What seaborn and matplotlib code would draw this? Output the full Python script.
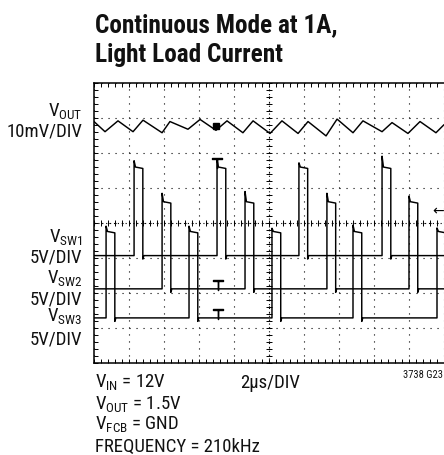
import os
import numpy as np
import pandas as pd
import seaborn as sns
import matplotlib
matplotlib.use("Agg")
import matplotlib.pyplot as plt
from matplotlib import font_manager as fm
from matplotlib.ticker import MultipleLocator

# ---------------- data (time in us, level in scope divisions, 0 = bottom) -------------
vout_t = [0.00, 0.63, 1.37, 2.23, 2.80, 3.89, 4.34, 5.37, 6.06, 6.97, 7.60, 8.51, 9.09,
          10.06, 10.74, 11.66, 12.23, 13.26, 13.89, 14.80, 15.37, 16.46, 17.03, 17.94,
          18.63, 19.54, 20.00]
vout_v = [6.89, 6.60, 6.91, 6.60, 6.93, 6.57, 6.89, 6.67, 6.95, 6.64, 6.91, 6.57, 6.91,
          6.55, 6.91, 6.55, 6.89, 6.48, 6.96, 6.57, 6.91, 6.60, 6.86, 6.55, 6.89, 6.57,
          6.80]

pulse_width = 0.50
sw1_edges = [2.29, 7.03, 11.71, 16.46]
sw1_spikes = [5.77, 5.79, 5.71, 5.90]
sw1_top, sw1_base = 5.59, 3.06

sw2_edges = [3.89, 8.63, 13.31, 18.00]
sw2_spikes = [4.84, 4.89, 4.84, 4.76]
sw2_top, sw2_base = 4.60, 2.11

sw3_edges = [0.69, 5.43, 10.17, 14.80, 19.60]
sw3_spikes = [3.90, 3.90, 3.84, 3.93, 3.85]
sw3_top, sw3_base = 3.75, 1.28

cursor_t = [7.03, 7.06, 7.06]
cursor_v = [5.71, 2.22, 1.39]
vout_cursor_t = [6.97]
vout_cursor_v = [6.75]
level_arrow = (19.97, 4.33)

# ---------------- fonts ----------------
def pick_font(bold):
    keys = ["liberationsansnarrow", "robotocondensed", "notosans-condensed",
            "dejavusanscondensed", "opensanscondensed"]
    files = sorted({f.fname for f in fm.fontManager.ttflist})
    for key in keys:
        for fn in files:
            b = os.path.basename(fn).lower().replace("_", "").replace(" ", "")
            if key not in b:
                continue
            if "italic" in b or "oblique" in b:
                continue
            isb = "bold" in b
            if bold:
                if isb and not any(s in b for s in ["semi", "extra", "ultra", "demi"]):
                    return fn, key
            else:
                if not isb and not any(s in b for s in ["light", "thin", "medium", "black", "semi", "extra"]):
                    return fn, key
    return None, None

reg_file, reg_key = pick_font(False)
bold_file, bold_key = pick_font(True)
scale_map = {"liberationsansnarrow": 1.0, "robotocondensed": 1.0,
             "notosans-condensed": 0.93, "dejavusanscondensed": 0.88,
             "opensanscondensed": 0.95}

def fp(size, bold=False):
    f, k = (bold_file, bold_key) if bold else (reg_file, reg_key)
    if f is None:
        return fm.FontProperties(family="Liberation Sans", weight="bold" if bold else "normal",
                                 size=size * 0.85)
    return fm.FontProperties(fname=f, size=size * scale_map.get(k, 1.0))

# ---------------- build traces ----------------
def pulse_trace(edges, spikes, top, base):
    t = [0.0]
    v = [base]
    for e, s in zip(edges, spikes):
        t += [e, e, e + 0.08, e + pulse_width, e + pulse_width, e + pulse_width + 0.06]
        v += [base, s, top, top - 0.04, base - 0.10, base]
    t.append(max(20.5, t[-1] + 0.1))
    v.append(base)
    return t, v

frames = [pd.DataFrame({"t": vout_t, "v": vout_v, "trace": "VOUT"})]
for name, (e, s, tp, b) in {"SW1": (sw1_edges, sw1_spikes, sw1_top, sw1_base),
                            "SW2": (sw2_edges, sw2_spikes, sw2_top, sw2_base),
                            "SW3": (sw3_edges, sw3_spikes, sw3_top, sw3_base)}.items():
    t, v = pulse_trace(e, s, tp, b)
    frames.append(pd.DataFrame({"t": t, "v": v, "trace": name}))
df = pd.concat(frames, ignore_index=True)

# ---------------- figure ----------------
sns.set_style("white")
W, H = 444, 455
fig = plt.figure(figsize=(W / 100, H / 100), dpi=100)
ax = fig.add_axes([94 / W, 92.3 / H, 350 / W, 280 / H])

sns.lineplot(data=df, x="t", y="v", units="trace", estimator=None, sort=False,
             color="black", linewidth=1.05, ax=ax, legend=False, zorder=3)

ax.set_xlim(0, 20)
ax.set_ylim(0, 8)
ax.set_xlabel("")
ax.set_ylabel("")

for side in ["left", "top", "bottom"]:
    ax.spines[side].set_color("black")
    ax.spines[side].set_linewidth(1.1)
ax.spines["right"].set_visible(False)

ax.xaxis.set_major_locator(MultipleLocator(2))
ax.xaxis.set_minor_locator(MultipleLocator(0.4))
ax.yaxis.set_major_locator(MultipleLocator(1))
ax.yaxis.set_minor_locator(MultipleLocator(0.2))
ax.tick_params(which="both", direction="in", top=True, bottom=True, left=True, right=False,
               labelbottom=False, labelleft=False, length=3, width=0.7, color="black")
ax.grid(which="major", color="black", linestyle=(0, (1, 5.3)), linewidth=0.8)
ax.set_axisbelow(True)

# centre crosshair with fine ticks
ax.axhline(4, color="black", linestyle=(0, (1, 2.5)), linewidth=0.8, zorder=1)
ax.axvline(10, color="black", linestyle=(0, (1, 2.5)), linewidth=0.8, zorder=1)
hx = np.arange(0, 20.001, 0.4)
vy = np.arange(0, 8.001, 0.2)
ax.plot(hx, np.full(hx.shape, 4.0), ls="none", marker="|", ms=4, mew=0.7, color="black", zorder=1)
ax.plot(np.full(vy.shape, 10.0), vy, ls="none", marker="_", ms=4, mew=0.7, color="black", zorder=1)

# scope cursors
ax.plot(cursor_t, cursor_v, ls="none", marker=r"$\top$", ms=7, color="black", zorder=4)
ax.plot(vout_cursor_t, vout_cursor_v, ls="none", marker="s", ms=4, color="black", zorder=4)
ax.text(level_arrow[0], level_arrow[1], "←", ha="right", va="center", fontsize=10,
        family="DejaVu Sans", color="black")

# ---------------- texts ----------------
def ftxt(x, y, s, prop, ha="left"):
    fig.text(x / W, 1 - y / H, s, fontproperties=prop, ha=ha, va="baseline", color="#111111")

tfp = fp(18.2, bold=True)
ftxt(95, 32, "Continuous Mode at 1A,", tfp)
ftxt(95, 62, "Light Load Current", tfp)

lfp = fp(13.5)
rx = 82.5
ftxt(rx, 117, r"V$_{\mathdefault{OUT}}$", lfp, ha="right")
ftxt(rx, 137, "10mV/DIV", lfp, ha="right")
ftxt(rx, 243, r"V$_{\mathdefault{SW1}}$", lfp, ha="right")
ftxt(rx, 263, "5V/DIV", lfp, ha="right")
ftxt(rx, 284, r"V$_{\mathdefault{SW2}}$", lfp, ha="right")
ftxt(rx, 305, "5V/DIV", lfp, ha="right")
ftxt(rx, 322, r"V$_{\mathdefault{SW3}}$", lfp, ha="right")
ftxt(rx, 344, "5V/DIV", lfp, ha="right")

ftxt(95, 388, r"V$_{\mathdefault{IN}}$ = 12V", lfp)
ftxt(240, 388, "2µs/DIV", lfp)
ftxt(95, 410, r"V$_{\mathdefault{OUT}}$ = 1.5V", lfp)
ftxt(95, 430, r"V$_{\mathdefault{FCB}}$ = GND", lfp)
ftxt(95, 452, "FREQUENCY = 210kHz", lfp)
ftxt(443, 378, "3738 G23", fp(7.6), ha="right")

fig.savefig("out.png", dpi=100)
